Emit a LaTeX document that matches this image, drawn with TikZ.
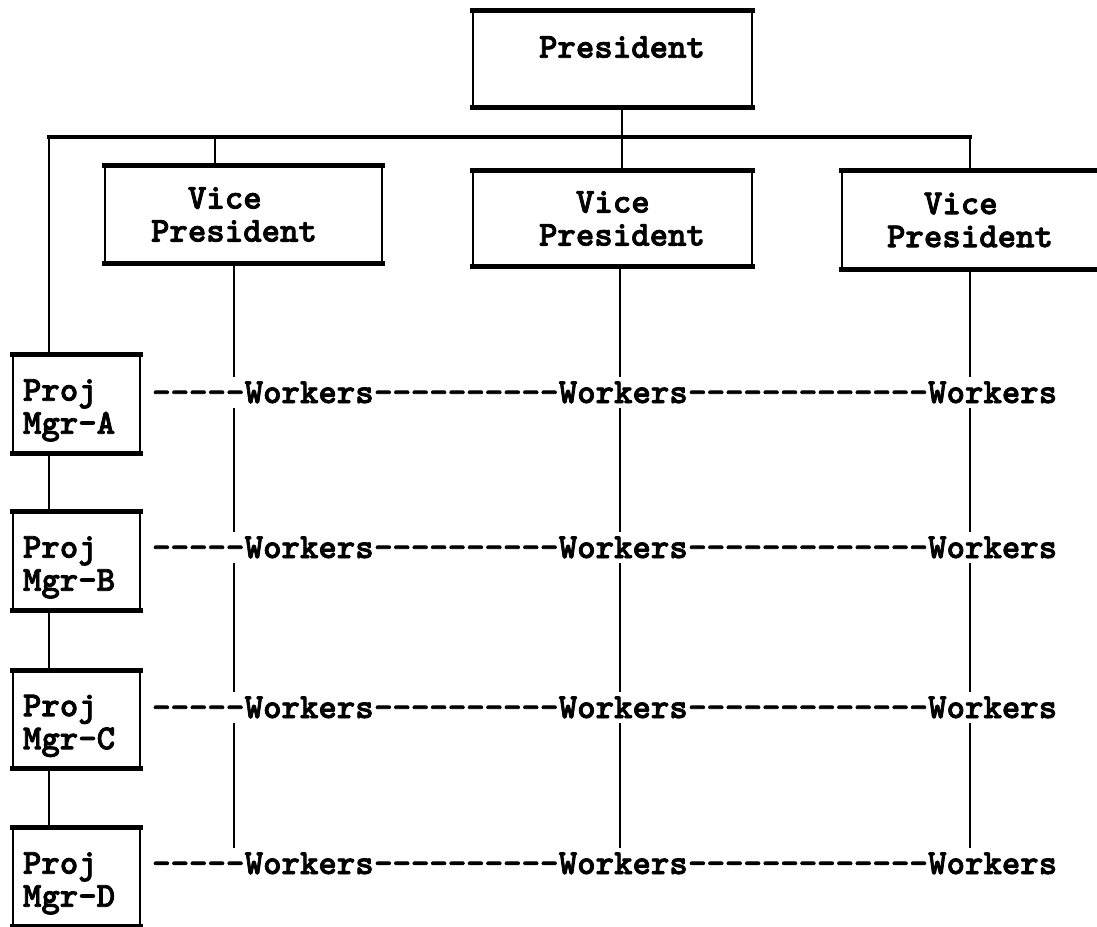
\documentclass[tikz,border=0pt]{standalone}
\usepackage{fontspec}
\newfontfamily\twfam{lmmonolt10-bold.otf}[FakeBold=2.2]
\newcommand\twfont{\twfam\fontsize{35.1pt}{33pt}\selectfont}
\newcommand\hy{-\kern0pt }
\tikzset{
  box/.style={draw, line width=2.8pt, font=\twfont, inner sep=0pt,
    append after command={
      (\tikzlastnode.north west) edge[line width=5pt, shorten <=-1.4pt, shorten >=-1.4pt] (\tikzlastnode.north east)
      (\tikzlastnode.south west) edge[line width=5pt, shorten <=-1.4pt, shorten >=-1.4pt] (\tikzlastnode.south east)}},
  pmbox/.style={box, align=left, text width=107pt, inner xsep=10pt,
    minimum height=96pt, text height=22pt, text depth=28.6pt},
  wk/.style={font=\twfont, inner xsep=0pt, inner ysep=3.5pt,
    text height=22pt, text depth=1pt, anchor=base west},
  ln/.style={line width=2.6pt},
  barline/.style={line width=4.8pt, line cap=rect},
}
\begin{document}
\begin{tikzpicture}[x=1pt,y=-1pt]
\useasboundingbox (0,0) rectangle (1097,926);
\fill[white] (0,0) rectangle (1097,926);

% President and vice presidents
\node[box, minimum width=279pt, minimum height=94pt, text height=22pt, text depth=24.6pt]
  (pres) at (612.5,59) {\hspace*{19pt}President};
\node[box, align=left, minimum width=277pt, minimum height=95pt]
  (vp1) at (243.5,214.5) {\hspace*{36.9pt}Vice\\President\hspace*{19pt}};
\node[box, align=left, minimum width=279pt, minimum height=93pt]
  (vp2) at (612.5,218.5) {\hspace*{55.9pt}Vice\\\hspace*{19pt}President};
\node[box, align=left, minimum width=256pt, minimum height=96pt]
  (vp3) at (970,220) {\hspace*{36.9pt}Vice\\President};

% project managers
\node[pmbox] (pmA) at (76.5,404) {Proj\\Mgr-A};
\node[pmbox] (pmB) at (76.5,561) {Proj\\Mgr-B};
\node[pmbox] (pmC) at (76.5,719.5) {Proj\\Mgr-C};
\node[pmbox] (pmD) at (76.5,877) {Proj\\Mgr-D};

% worker rows
\foreach \r/\y in {A/403,B/558,C/718,D/874}{
  \node[wk] (d\r0) at (152,\y) {\hy\hy\hy\hy\hy};
  \node[wk] (w\r1) at (d\r0.base east) {Workers};
  \node[wk] (d\r1) at (w\r1.base east) {\hy\hy\hy\hy\hy\hy\hy\hy\hy\hy};
  \node[wk] (w\r2) at (d\r1.base east) {Workers};
  \node[wk] (d\r2) at (w\r2.base east) {\hy\hy\hy\hy\hy\hy\hy\hy\hy\hy\hy\hy\hy};
  \node[wk] (w\r3) at (d\r2.base east) {Workers};
}

% top structure
\coordinate (bl) at (49,137);
\coordinate (br) at (970,137);
\coordinate (ps) at ([xshift=9.5pt]pres.south);
\coordinate (s1) at ([xshift=-28.5pt]vp1.north);
\coordinate (s2) at ([xshift=9.5pt]vp2.north);
\draw[ln] (ps) -- (ps |- bl);
\draw[barline] (bl) -- (br);
\draw[ln] (s1 |- bl) -- (s1);
\draw[ln] (s2 |- bl) -- (s2);
\draw[ln] (br) -- (vp3.north);

% left chain of project managers
\draw[ln] (bl) -- (bl |- pmA.north);
\draw[ln] (bl |- pmA.south) -- (bl |- pmB.north);
\draw[ln] (bl |- pmB.south) -- (bl |- pmC.north);
\draw[ln] (bl |- pmC.south) -- (bl |- pmD.north);

% vice president lines down through the worker rows
\coordinate (l1) at ([xshift=-9.5pt]vp1.south);
\coordinate (l2) at ([xshift=7.5pt]vp2.south);
\coordinate (l3) at (vp3.south);
\foreach \l in {l1,l2,l3}{
  \draw[ln] (\l) -- (\l |- dA0.north);
  \draw[ln] (\l |- dA0.south) -- (\l |- dB0.north);
  \draw[ln] (\l |- dB0.south) -- (\l |- dC0.north);
  \draw[ln] (\l |- dC0.south) -- (\l |- dD0.north);
}
\end{tikzpicture}
\end{document}
